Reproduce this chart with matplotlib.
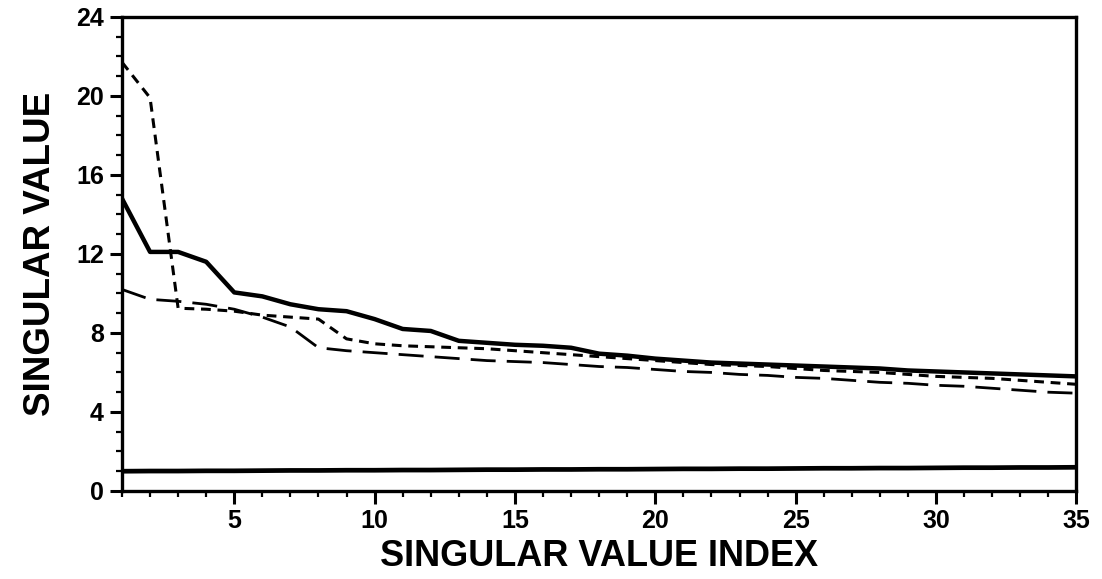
import matplotlib
matplotlib.use("Agg")
import matplotlib.pyplot as plt
from matplotlib.ticker import MultipleLocator, FixedLocator

plt.rcParams["font.family"] = ["Liberation Sans", "DejaVu Sans"]

# ─────────────────────────────────────────────────────────────
# Data
# ─────────────────────────────────────────────────────────────
index = list(range(1, 36))

sv_solid = [14.8, 12.1, 12.1, 11.6, 10.05, 9.85, 9.45, 9.2, 9.1, 8.7,
            8.2, 8.1, 7.6, 7.5, 7.4, 7.35, 7.25, 6.95, 6.85, 6.7,
            6.6, 6.5, 6.45, 6.4, 6.35, 6.3, 6.25, 6.2, 6.1, 6.05,
            6.0, 5.95, 5.9, 5.85, 5.8]

sv_short_dash = [21.7, 19.9, 9.25, 9.2, 9.1, 8.9, 8.8, 8.7, 7.7, 7.45,
                 7.35, 7.3, 7.25, 7.2, 7.1, 7.0, 6.9, 6.8, 6.7, 6.6,
                 6.5, 6.4, 6.35, 6.3, 6.2, 6.1, 6.05, 6.0, 5.9, 5.8,
                 5.75, 5.7, 5.6, 5.5, 5.4]

sv_long_dash = [10.2, 9.7, 9.6, 9.45, 9.2, 8.8, 8.3, 7.25, 7.1, 7.0,
                6.9, 6.8, 6.7, 6.6, 6.55, 6.5, 6.4, 6.3, 6.25, 6.15,
                6.05, 6.0, 5.9, 5.85, 5.75, 5.7, 5.6, 5.5, 5.45, 5.35,
                5.3, 5.2, 5.1, 5.0, 4.95]

sv_flat = [1.0, 1.01, 1.01, 1.02, 1.02, 1.03, 1.04, 1.04, 1.05, 1.05,
           1.06, 1.06, 1.07, 1.08, 1.08, 1.09, 1.09, 1.1, 1.1, 1.11,
           1.12, 1.12, 1.13, 1.13, 1.14, 1.15, 1.15, 1.16, 1.16, 1.17,
           1.18, 1.18, 1.19, 1.19, 1.2]

x_major = [5, 10, 15, 20, 25, 30, 35]
y_major = [0, 4, 8, 12, 16, 20, 24]

# ─────────────────────────────────────────────────────────────
# Plot
# ─────────────────────────────────────────────────────────────
fig = plt.figure(figsize=(11.02, 5.79), dpi=100)
ax = fig.add_axes([0.1107, 0.152, 0.866, 0.819])

ax.plot(index, sv_solid, color="black", linewidth=3.2, snap=False)
ax.plot(index, sv_short_dash, color="black", linewidth=2.2, dashes=(3.2, 2.2), snap=False)
ax.plot(index, sv_long_dash, color="black", linewidth=2.0, dashes=(9, 4), snap=False)
ax.plot(index, sv_flat, color="black", linewidth=3.4, snap=False)

ax.set_xlim(1, 35)
ax.set_ylim(0, 24)

ax.xaxis.set_major_locator(FixedLocator(x_major))
ax.xaxis.set_minor_locator(MultipleLocator(1))
ax.yaxis.set_major_locator(FixedLocator(y_major))
ax.yaxis.set_minor_locator(MultipleLocator(1))

ax.tick_params(axis="both", which="major", direction="out", length=9, width=2.2,
               labelsize=18, pad=4)
ax.tick_params(axis="both", which="minor", direction="out", length=4.5, width=1.6)
for lbl in ax.get_xticklabels() + ax.get_yticklabels():
    lbl.set_fontweight("bold")

for side in ["left", "bottom", "right", "top"]:
    ax.spines[side].set_linewidth(2.4)

ax.set_xlabel("SINGULAR VALUE INDEX", fontsize=26, fontweight="bold", labelpad=4)
ax.set_ylabel("SINGULAR VALUE", fontsize=26.5, fontweight="bold", labelpad=13)

plt.savefig("out.png", dpi=100)
plt.close()
